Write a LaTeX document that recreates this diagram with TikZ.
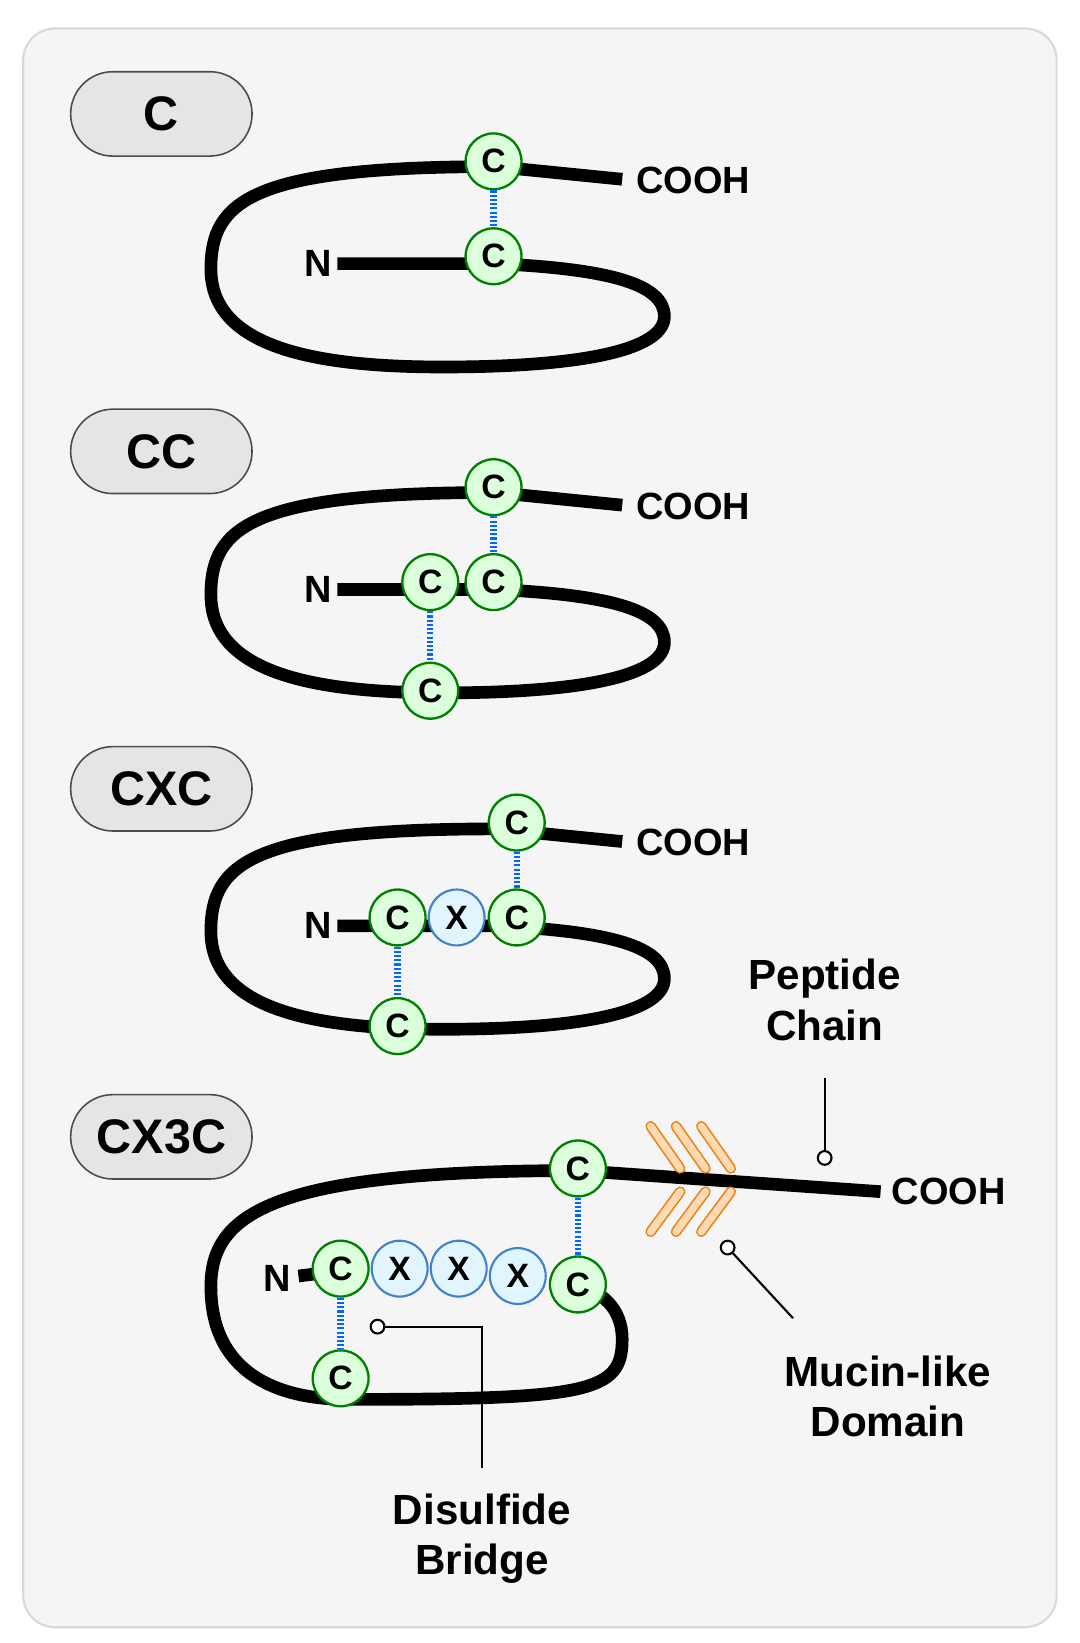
\documentclass[tikz,border=0pt]{standalone}
\usepackage{fontspec}
\setmainfont{Liberation Sans}
\begin{document}
\begin{tikzpicture}[x=1pt,y=-1pt,
 cys/.style={circle,draw=green!50!black,fill=green!14,line width=2.2pt,minimum size=53pt,inner sep=0pt,font=\fontsize{32}{32}\selectfont\bfseries},
 xx/.style={circle,draw=cyan!50!blue!80,fill=cyan!12,line width=2pt,minimum size=53pt,inner sep=0pt,font=\fontsize{32}{32}\selectfont\bfseries},
 chain/.style={line width=12pt,black},
 bridge/.style={line width=6pt,draw=blue!60!cyan,dash pattern=on 2pt off 2pt},
 pill/.style={rectangle,rounded corners=40pt,draw=black!70,fill=black!10,line width=1.5pt,minimum width=172pt,minimum height=80pt,font=\fontsize{46}{46}\selectfont\bfseries},
 lbl/.style={font=\fontsize{36}{36}\selectfont\bfseries},
 big/.style={font=\fontsize{40}{48}\selectfont\bfseries,align=center},
 mucin/.style={line width=1.5pt,draw=orange!70!brown,double=orange!30,double distance=7pt,line cap=round},
 ptr/.style={line width=2pt}]
\useasboundingbox (0,0) rectangle (1024,1558);
\draw[fill=black!4,draw=black!15,line width=2pt,rounded corners=30pt] (22,27) rectangle (1002,1543);
% labels
\node[pill] (l1) at (153,108) {C};
\node[pill] (l2) at (153,428) {CC};
\node[pill] (l3) at (153,748) {CXC};
\node[pill] (l4) at (153,1078) {CX3C};
% three similar loops
\foreach \dy/\n in {0/1,309/2,628/3}{
 \begin{scope}[yshift=-\dy]
 \draw[chain] (590,170) -- (470,158) .. controls (240,158) and (200,190) .. (200,255) .. controls (200,330) and (300,348) .. (420,348) .. controls (560,348) and (630,330) .. (630,300) .. controls (630,270) and (580,255) .. (470,250) -- (320,250);
 \node[lbl] (n\n) at (302,250) {N};
 \node[lbl,anchor=west] (cooh\n) at (600,171) {COOH};
 \end{scope}}
% panel 1
\node[cys] (a1) at (468,153) {C};
\node[cys] (a2) at (468,243) {C};
\draw[bridge] (a1) -- (a2);
% panel 2
\node[cys] (b1) at (468,462) {C};
\node[cys] (b2) at (468,552) {C};
\node[cys] (b3) at (408,552) {C};
\node[cys] (b4) at (408,655) {C};
\draw[bridge] (b1) -- (b2);
\draw[bridge] (b3) -- (b4);
% panel 3
\node[cys] (c1) at (490,780) {C};
\node[cys] (c2) at (490,870) {C};
\node[xx] (cx) at (433,870) {X};
\node[cys] (c3) at (377,870) {C};
\node[cys] (c4) at (377,973) {C};
\draw[bridge] (c1) -- (c2);
\draw[bridge] (c3) -- (c4);
% panel 4
\draw[chain] (835,1130) -- (548,1110) .. controls (260,1110) and (200,1150) .. (200,1220) .. controls (200,1300) and (260,1327) .. (330,1327) .. controls (560,1327) and (590,1320) .. (590,1270) .. controls (590,1240) and (570,1225) .. (548,1218);
\draw[chain] (283,1210) -- (323,1205);
\foreach \dx in {0,24,48}{
 \draw[mucin] (617+\dx,1068) -- (645+\dx,1108);
 \draw[mucin] (645+\dx,1130) -- (617+\dx,1168);}
\node[lbl] (n4) at (263,1212) {N};
\node[lbl,anchor=west] (cooh4) at (842,1130) {COOH};
\node[cys] (d1) at (548,1108) {C};
\node[cys] (d2) at (548,1218) {C};
\node[xx] (x1) at (379,1203) {X};
\node[xx] (x2) at (435,1203) {X};
\node[xx] (x3) at (491,1210) {X};
\node[cys] (d3) at (323,1203) {C};
\node[cys] (d4) at (323,1307) {C};
\draw[bridge] (d1) -- (d2);
\draw[bridge] (d3) -- (d4);
% annotations
\node[big] (pep) at (782,948) {Peptide\\Chain};
\node[big] (muc) at (842,1324) {Mucin-like\\Domain};
\node[big] (dis) at (457,1459) {Disulfide\\Bridge};
\node[circle,draw,line width=2pt,fill=white,inner sep=0pt,minimum size=13pt] (p1) at (782,1098) {};
\node[circle,draw,line width=2pt,fill=white,inner sep=0pt,minimum size=13pt] (p2) at (690,1183) {};
\node[circle,draw,line width=2pt,fill=white,inner sep=0pt,minimum size=13pt] (p3) at (358,1258) {};
\coordinate (pt) at (782,1022);
\coordinate (mt) at (752,1250);
\coordinate (dc) at (457,1258);
\coordinate (dt) at (457,1392);
\draw[ptr] (pt) -- (p1);
\draw[ptr] (p2) -- (mt);
\draw[ptr] (p3) -- (dc) -- (dt);
\end{tikzpicture}
\end{document}
